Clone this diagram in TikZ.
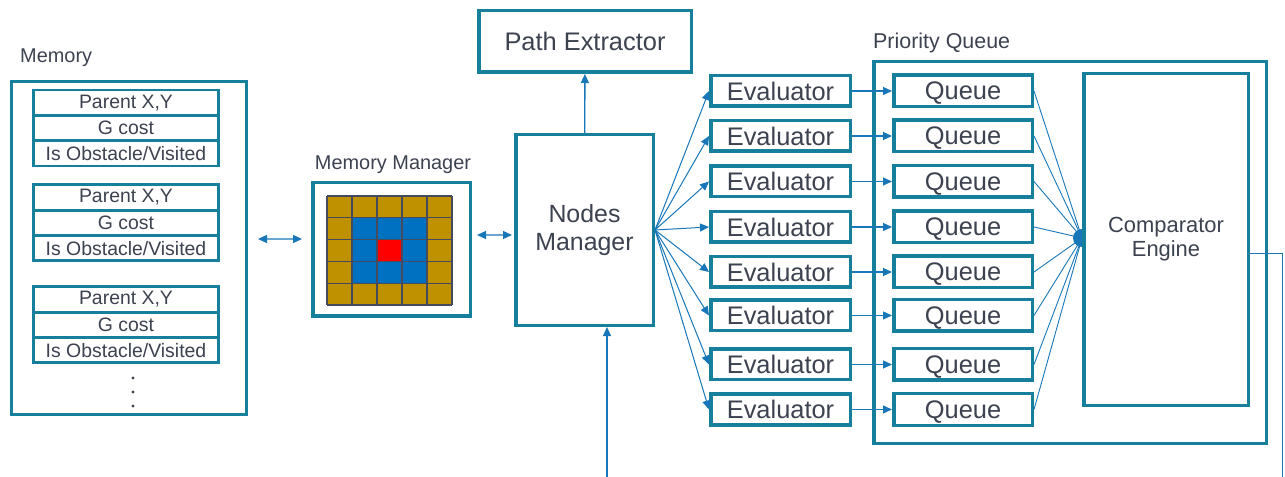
\documentclass[tikz,border=0pt]{standalone}
\usepackage{fontspec}
\setmainfont{Liberation Sans}
\usepackage{xcolor}
\definecolor{frame}{HTML}{16809C}
\definecolor{flow}{HTML}{1877B9}
\definecolor{ink}{HTML}{3D4250}
\definecolor{cellgold}{HTML}{BF9000}
\definecolor{cellblue}{HTML}{0070C0}
\definecolor{cellred}{HTML}{FF0000}
\definecolor{cellline}{HTML}{454A5C}
\usepackage{tikz}
\usetikzlibrary{arrows.meta}

\begin{document}
\begin{tikzpicture}[x=1bp,y=-1bp,>={Triangle[length=9bp,width=8bp]},
  every node/.style={text=ink,inner sep=0pt},
  block/.style={draw=frame,line width=3.5bp,fill=white},
  field/.style={draw=frame,line width=2.8bp,minimum width=185.5bp,minimum height=25.3bp,font=\fontsize{19.5}{22}\selectfont},
  evalbox/.style={block,minimum width=139.5bp,minimum height=30.5bp,font=\fontsize{25.5}{28}\selectfont},
  queuebox/.style={block,minimum width=138.5bp,minimum height=31.5bp,text depth=0pt,font=\fontsize{25.5}{28}\selectfont},
  caption/.style={font=\fontsize{20}{24}\selectfont},
  link/.style={->,flow,line width=1.3bp},
  fan/.style={->,flow,line width=1bp},
  feed/.style={flow,line width=0.9bp}]
\useasboundingbox (0,0) rectangle (1285,477);

\node[caption,anchor=west] (memlbl) at (20,58) {Memory};
\node[block,minimum width=234.5bp,minimum height=332.5bp] (mem) at (129,248) {};
\node[field] (par1) at (126,102.7) {Parent X,Y};
\node[field] (g1) at (126,128) {G cost};
\node[field] (obs1) at (126,153.3) {Is Obstacle/Visited};
\node[field] (par2) at (126,197.5) {Parent X,Y};
\node[field] (g2) at (126,222.8) {G cost};
\node[field] (obs2) at (126,248.1) {Is Obstacle/Visited};
\node[field] (par3) at (126,299.5) {Parent X,Y};
\node[field] (g3) at (126,324.8) {G cost};
\node[field] (obs3) at (126,350.1) {Is Obstacle/Visited};
\fill[ink] (133,378) circle (1.7) (133,392) circle (1.7) (133,406) circle (1.7);

\node[caption] (mmlbl) at (393,165) {Memory Manager};
\node[block,minimum width=157.5bp,minimum height=133.5bp] (mm) at (391.5,249.5) {};
% 5x5 cell map
\fill[cellgold] (327,196) rectangle (452,305);
\fill[cellblue] (352,217.8) rectangle (427,283.2);
\fill[cellred] (377,239.6) rectangle (402,261.4);
\foreach \k in {0,...,5} {
  \draw[cellline,line width=1.2bp] (327+25*\k,196) -- ++(0,109);
  \draw[cellline,line width=1.2bp] (327,196+21.8*\k) -- ++(125,0);
}

\node[block,minimum width=137.5bp,minimum height=190.5bp,align=center,font=\fontsize{25}{28}\selectfont] (nm) at (584.5,230) {Nodes\\Manager};
\node[block,minimum width=212.5bp,minimum height=61.5bp,font=\fontsize{25.5}{28}\selectfont] (pe) at (585,41.5) {Path Extractor};
\coordinate (feedin) at (607,477);

\node[caption,anchor=west,font=\fontsize{21.5}{24}\selectfont] (pqlbl) at (873,43) {Priority Queue};
\node[draw=frame,line width=3.5bp,minimum width=392.5bp,minimum height=381.5bp] (pq) at (1070,252.5) {};

\foreach \yy [count=\n] in {91,136,181.5,227,272,315.5,364.5,409.5} {
  \node[evalbox] (ev\n) at (780.5,\yy) {Evaluator};
  \node[queuebox] (q\n) at (963,\yy) {Queue};
}
\coordinate (hub) at (1082,238);
\coordinate (out) at (1282,477);

\draw[<->,flow,line width=1.3bp,shorten <=10bp,shorten >=9bp] ([yshift=9bp]mem.east) -- ([yshift=10.5bp]mm.west);
\draw[<->,flow,line width=1.3bp,shorten <=5bp,shorten >=2bp] ([yshift=14.5bp]mm.east) -- ([yshift=-5bp]nm.west);
\draw[link] (nm) -- (pe);
\draw[link] (feedin) -- (feedin |- nm.south);
\foreach \n in {1,...,8} {
  \draw[fan] (nm.east) -- (ev\n.west);
  \draw[link] (ev\n) -- (q\n);
  \draw[feed] (q\n.east) -- (hub);
}
\fill[flow] (hub) circle (9);
\node[block,minimum width=164.5bp,minimum height=331.5bp,align=center,font=\fontsize{22}{24}\selectfont] (comp) at (1166,239.5) {Comparator\\Engine};
\draw[feed] ([yshift=-13.5bp]comp.east) -| (out);
\end{tikzpicture}
\end{document}
